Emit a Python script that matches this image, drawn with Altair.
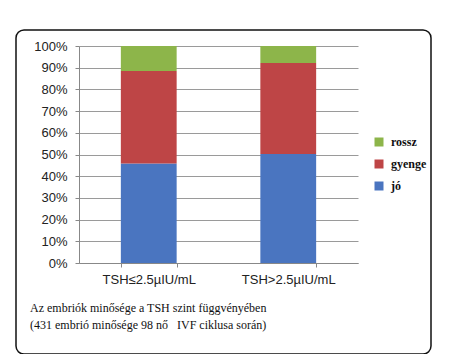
import altair as alt
import pandas as pd

categories = ["TSH≤2.5µIU/mL", "TSH>2.5µIU/mL"]
series = ["jó", "gyenge", "rossz"]
jo = [0.459, 0.502]
gyenge = [0.426, 0.420]
rossz = [0.115, 0.078]
colors = ["#4A75C0", "#BE4546", "#8DB54A"]
caption = ["Az embriók minősége a TSH szint függvényében",
           "(431 embrió minősége 98 nő\u00a0\u00a0\u00a0IVF ciklusa során)"]

rows = []
for i, c in enumerate(categories):
    for k, (s, vals) in enumerate(zip(series, [jo, gyenge, rossz])):
        rows.append({"cat": c, "series": s, "value": vals[i], "ord": k})
df = pd.DataFrame(rows)

legend_order = ["rossz", "gyenge", "jó"]
color_map = dict(zip(series, colors))

bars = alt.Chart(df).mark_bar().encode(
    x=alt.X("cat:N", sort=categories, title=None,
            scale=alt.Scale(paddingInner=0.6, paddingOuter=0.3),
            axis=alt.Axis(labelAngle=0, labelFont="Liberation Sans", labelFontSize=13,
                          labelColor="#222", labelPadding=6, tickBand="extent",
                          tickSize=4, tickColor="#888", domainColor="#888", grid=False)),
    y=alt.Y("value:Q", stack="zero", title=None,
            scale=alt.Scale(domain=[0, 1], nice=False),
            axis=alt.Axis(format="%", values=[i / 10 for i in range(11)],
                          labelFont="Liberation Sans", labelFontSize=13, labelColor="#222",
                          labelPadding=8, tickSize=4, tickColor="#888",
                          domainColor="#888", gridColor="#9a9a9a")),
    color=alt.Color("series:N",
                    scale=alt.Scale(domain=legend_order,
                                    range=[color_map[s] for s in legend_order]),
                    legend=alt.Legend(title=None, orient="none", legendX=294, legendY=90,
                                      symbolType="square", symbolSize=81,
                                      symbolStrokeWidth=0, symbolOpacity=1,
                                      labelFont="Liberation Serif", labelFontWeight="bold",
                                      labelFontSize=12, labelColor="#111",
                                      labelOffset=6, rowPadding=10, padding=0)),
    order=alt.Order("ord:Q"),
)

frame = alt.Chart(alt.Data(values=[{}])).mark_rect(
    fillOpacity=0, stroke="#111", strokeWidth=1.5, cornerRadius=8
).encode(x=alt.value(-63), x2=alt.value(352), y=alt.value(-16), y2=alt.value(308))

cap = alt.Chart(alt.Data(values=[{}])).mark_text(
    align="left", baseline="middle", font="Liberation Serif", fontSize=12,
    color="#111", lineHeight=17
).encode(x=alt.value(-49), y=alt.value(262), text=alt.value(caption))

chart = alt.layer(frame, bars, cap).properties(
    width=279, height=217,
    autosize=alt.AutoSizeParams(type="none"),
    padding={"left": 71, "top": 38, "right": 84, "bottom": 91},
    background="white",
).configure_view(stroke=None)

chart.save("out.html", embed_options={"renderer": "svg", "actions": False})
